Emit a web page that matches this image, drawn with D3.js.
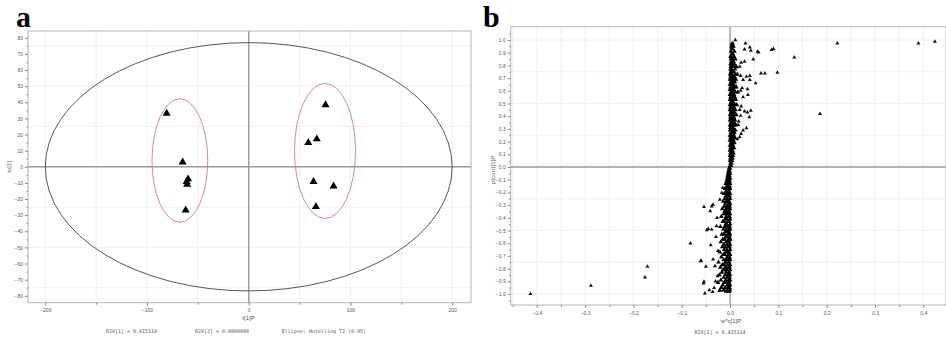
<!DOCTYPE html>
<html>
<head>
<meta charset="utf-8">
<script src="https://cdn.jsdelivr.net/npm/d3@7"></script>
<style>
  body { margin: 0; background: #fff; }
  svg { display: block; }
  text { font-family: "Liberation Sans", Arial, sans-serif; }
</style>
</head>
<body>
<svg id="chart" width="946" height="339"></svg>
<script>
// ---- panel a: score plot ----
const scoresA = [[-80.7, 33.1], [-65, 2.9], [-59.6, -7.6], [-61, -9.3], [-60.5, -11], [-62, -26.9]];
const scoresB = [[75.5, 38.3], [66.9, 17.2], [58.5, 14.9], [63.7, -9.3], [83.4, -12], [66, -24.8]];
// [cx, cy, rx, ry]
const hotelling = [0, 0, 200, 77];
const groupEllipses = [[-67.7, 3.9, 27.4, 38.3], [75, 9.8, 30, 41.9]];
const aXTicks = [-200, -100, 0, 100, 200];
const aXMinor = [-150, -50, 50, 150];
const aYTicks = [-80, -70, -60, -50, -40, -30, -20, -10, 0, 10, 20, 30, 40, 50, 60, 70, 80];
const aYMinor = [-75, -65, -55, -45, -35, -25, -15, -5, 5, 15, 25, 35, 45, 55, 65, 75];
const aXGrid = [-200, -150, -100, -50, 50, 100, 150, 200];
const aYGrid = [-75, -50, -25, 25, 50, 75];
const aFooter = ['R2X[1] = 0.415114', 'R2X[2] = 0.0800008', 'Ellipse: Hotelling T2 (0.95)'];

// ---- panel b: S-plot ----
// dense band, rows of [p(corr), [p values]]
const bandUpper = [
  [0.01, [0.000, 0.002]], [0.03, [0.001, 0.003]], [0.05, [0.000, 0.002, 0.004]],
  [0.07, [0.001, 0.003, 0.005]], [0.09, [0.000, 0.003, 0.006]], [0.11, [0.001, 0.004, 0.007]],
  [0.13, [0.000, 0.002, 0.005]], [0.15, [0.001, 0.004, 0.008]], [0.17, [0.000, 0.003, 0.006]],
  [0.19, [0.002, 0.005, 0.009]], [0.21, [0.000, 0.003, 0.007]], [0.23, [0.001, 0.004, 0.006, 0.010]],
  [0.25, [0.000, 0.003, 0.008]], [0.27, [0.002, 0.005, 0.009]], [0.29, [0.000, 0.004, 0.007, 0.011]],
  [0.31, [0.001, 0.003, 0.006]], [0.33, [0.000, 0.005, 0.008, 0.012]], [0.35, [0.002, 0.004, 0.009]],
  [0.37, [0.000, 0.003, 0.006, 0.010]], [0.39, [0.001, 0.005, 0.008]], [0.41, [0.000, 0.003, 0.007, 0.013]],
  [0.43, [0.002, 0.004, 0.009]], [0.45, [0.000, 0.006, 0.011]], [0.47, [0.001, 0.003, 0.008]],
  [0.49, [0.000, 0.005, 0.010, 0.014]], [0.51, [0.002, 0.004, 0.007]], [0.53, [0.000, 0.003, 0.009, 0.012]],
  [0.55, [0.001, 0.006, 0.010]], [0.57, [0.000, 0.004, 0.008]], [0.59, [0.002, 0.005, 0.011, 0.016]],
  [0.61, [0.000, 0.003, 0.007]], [0.63, [0.001, 0.006, 0.009, 0.013]], [0.65, [0.000, 0.004, 0.008]],
  [0.67, [0.002, 0.005, 0.010]], [0.69, [0.000, 0.003, 0.007, 0.012]], [0.71, [0.001, 0.006, 0.009]],
  [0.73, [0.000, 0.004, 0.011, 0.015]], [0.75, [0.002, 0.005, 0.008]], [0.77, [0.001, 0.003, 0.010]],
  [0.79, [0.002, 0.006, 0.013]], [0.81, [0.001, 0.004, 0.009]], [0.83, [0.003, 0.007]],
  [0.85, [0.002, 0.005, 0.011]], [0.87, [0.001, 0.008]], [0.89, [0.004, 0.006]],
  [0.91, [0.002, 0.009]], [0.93, [0.005]], [0.95, [0.003, 0.007]], [0.97, [0.004]]
];
const bandLower = [
  [-0.01, [0.000, -0.002]], [-0.03, [-0.001, -0.003]], [-0.05, [0.000, -0.002, -0.004]],
  [-0.07, [-0.001, -0.003, -0.005]], [-0.09, [0.000, -0.003, -0.006]], [-0.11, [-0.001, -0.004, -0.007]],
  [-0.13, [0.000, -0.002, -0.005, -0.009]], [-0.15, [-0.001, -0.004, -0.007]], [-0.17, [0.000, -0.003, -0.006, -0.010]],
  [-0.19, [-0.002, -0.005, -0.008]], [-0.21, [0.000, -0.003, -0.007, -0.012]], [-0.23, [-0.001, -0.004, -0.009]],
  [-0.25, [0.000, -0.006, -0.011]], [-0.27, [-0.002, -0.005, -0.008, -0.014]], [-0.29, [0.000, -0.003, -0.010]],
  [-0.31, [-0.001, -0.006, -0.012]], [-0.33, [0.000, -0.004, -0.008, -0.016]], [-0.35, [-0.002, -0.007, -0.011]],
  [-0.37, [0.000, -0.005, -0.009, -0.013]], [-0.39, [-0.001, -0.003, -0.008, -0.018]], [-0.41, [0.000, -0.006, -0.010]],
  [-0.43, [-0.002, -0.004, -0.012, -0.015]], [-0.45, [0.000, -0.007, -0.009]], [-0.47, [-0.001, -0.005, -0.011, -0.020]],
  [-0.49, [0.000, -0.003, -0.008, -0.014]], [-0.51, [-0.002, -0.006, -0.010]], [-0.53, [0.000, -0.004, -0.012, -0.017]],
  [-0.55, [-0.001, -0.007, -0.009]], [-0.57, [0.000, -0.003, -0.011, -0.015]], [-0.59, [-0.002, -0.005, -0.008, -0.019]],
  [-0.61, [0.000, -0.006, -0.013]], [-0.63, [-0.001, -0.004, -0.010, -0.016]], [-0.65, [0.000, -0.007, -0.012]],
  [-0.67, [-0.002, -0.005, -0.009, -0.021]], [-0.69, [0.000, -0.003, -0.011, -0.014]], [-0.71, [-0.001, -0.006, -0.018]],
  [-0.73, [0.000, -0.004, -0.008, -0.013]], [-0.75, [-0.002, -0.007, -0.010, -0.024]], [-0.77, [0.000, -0.005, -0.012, -0.016]],
  [-0.79, [-0.001, -0.003, -0.009, -0.020]], [-0.81, [0.000, -0.006, -0.011, -0.014]], [-0.83, [-0.002, -0.008, -0.017]],
  [-0.85, [0.000, -0.004, -0.010, -0.022]], [-0.87, [-0.001, -0.006, -0.013]], [-0.89, [0.000, -0.003, -0.009, -0.019]],
  [-0.91, [-0.002, -0.007, -0.012, -0.025]], [-0.93, [0.000, -0.005, -0.015]], [-0.95, [-0.001, -0.004, -0.010, -0.018]],
  [-0.97, [0.000, -0.006, -0.013, -0.021]], [-0.98, [-0.002, -0.008]]
];
// scattered variables, [p, p(corr)]
const scatterUpper = [
  [0.011, 1.0], [0.006, 0.974], [0.003, 0.935], [0.032, 0.974], [0.041, 0.943], [0.043, 0.917],
  [0.030, 0.927], [0.057, 0.909], [0.059, 0.903], [0.086, 0.922], [0.090, 0.930], [0.133, 0.864],
  [0.222, 0.974], [0.390, 0.974], [0.424, 0.987], [0.048, 0.848], [0.030, 0.830], [0.023, 0.822],
  [0.020, 0.791], [0.013, 0.785], [0.010, 0.796], [0.064, 0.738], [0.072, 0.738], [0.098, 0.744],
  [0.041, 0.718], [0.034, 0.712], [0.022, 0.718], [0.041, 0.687], [0.027, 0.687], [0.053, 0.660],
  [0.036, 0.613], [0.025, 0.621], [0.022, 0.602], [0.037, 0.569], [0.027, 0.550], [0.023, 0.477],
  [0.020, 0.451], [0.043, 0.445], [0.036, 0.430], [0.030, 0.438], [0.040, 0.393], [0.186, 0.419],
  [0.022, 0.404], [0.034, 0.306], [0.027, 0.288], [0.023, 0.262], [0.020, 0.236], [0.015, 0.220],
  [0.017, 0.333], [0.018, 0.359]
];
const scatterLower = [
  [-0.413, -1.0], [-0.288, -0.935], [-0.171, -0.785], [-0.176, -0.869], [-0.082, -0.602], [-0.060, -0.738],
  [-0.040, -0.615], [-0.050, -0.785], [-0.054, -0.903], [-0.055, -0.916], [-0.052, -0.995], [-0.048, -0.497],
  [-0.038, -0.492], [-0.054, -0.314], [-0.038, -0.309], [-0.035, -0.296], [-0.041, -0.348], [-0.045, -0.487],
  [-0.028, -0.466], [-0.061, -0.741], [-0.035, -0.728], [-0.043, -0.969], [-0.036, -0.984], [-0.033, -0.951],
  [-0.022, -0.976], [-0.026, -0.859], [-0.031, -0.780], [-0.021, -0.256], [-0.017, -0.204], [-0.015, -0.165],
  [-0.029, -0.550], [-0.025, -0.660], [-0.030, -0.900], [-0.027, -0.400]
];
const bXTicks = [-0.4, -0.3, -0.2, -0.1, 0, 0.1, 0.2, 0.3, 0.4];
const bXMinor = [-0.45, -0.35, -0.25, -0.15, -0.05, 0.05, 0.15, 0.25, 0.35, 0.45];
const bYTicks = [-1.0, -0.9, -0.8, -0.7, -0.6, -0.5, -0.4, -0.3, -0.2, -0.1, 0, 0.1, 0.2, 0.3, 0.4, 0.5, 0.6, 0.7, 0.8, 0.9, 1.0];
const bYMinor = [-1.05, -0.95, -0.85, -0.75, -0.65, -0.55, -0.45, -0.35, -0.25, -0.15, -0.05, 0.05, 0.15, 0.25, 0.35, 0.45, 0.55, 0.65, 0.75, 0.85, 0.95, 1.05];
const bXGrid = [-0.45, -0.4, -0.35, -0.3, -0.25, -0.2, -0.15, -0.1, -0.05, 0.05, 0.1, 0.15, 0.2, 0.25, 0.3, 0.35, 0.4, 0.45];
const bYGrid = [-1, -0.75, -0.5, -0.25, 0.25, 0.5, 0.75, 1];
const bFooter = 'R2X[1] = 0.415114';

const svg = d3.select('#chart');

const xa = d3.scaleLinear().domain([-217, 218.5]).range([28, 471]);
const ya = d3.scaleLinear().domain([-84.3, 84.2]).range([302.7, 31]);
const xb = d3.scaleLinear().domain([-0.454, 0.447]).range([510.7, 946]);
const yb = d3.scaleLinear().domain([-1.087, 1.105]).range([305, 26.7]);

function drawFrame(x, y, xGrid, yGrid, xt, xm, yt, ym, fmt) {
  const g = svg.append('g');
  const [x0, x1] = x.range(), [y0, y1] = y.range();
  g.selectAll('.gx').data(xGrid).enter().append('line')
    .attr('x1', d => x(d)).attr('x2', d => x(d)).attr('y1', y0).attr('y2', y1)
    .attr('stroke', '#ececec').attr('stroke-width', 0.8);
  g.selectAll('.gy').data(yGrid).enter().append('line')
    .attr('y1', d => y(d)).attr('y2', d => y(d)).attr('x1', x0).attr('x2', x1)
    .attr('stroke', '#ececec').attr('stroke-width', 0.8);
  // zero lines
  g.append('line').attr('x1', x(0)).attr('x2', x(0)).attr('y1', y0).attr('y2', y1)
    .attr('stroke', '#9a9a9a').attr('stroke-width', 1.4);
  g.append('line').attr('x1', x0).attr('x2', x1).attr('y1', y(0)).attr('y2', y(0))
    .attr('stroke', '#9a9a9a').attr('stroke-width', 1.4);
  g.append('rect').attr('x', x0).attr('y', y1).attr('width', x1 - x0).attr('height', y0 - y1)
    .attr('fill', 'none').attr('stroke', '#b4b4b4').attr('stroke-width', 1);

  const style = sel => {
    sel.select('.domain').remove();
    sel.selectAll('line').attr('stroke', '#888');
    sel.selectAll('text').attr('fill', '#555').style('font-size', '5px');
  };
  svg.append('g').attr('transform', `translate(0,${y0})`)
    .call(d3.axisBottom(x).tickValues(xt).tickSize(3).tickPadding(3).tickFormat(fmt)).call(style);
  svg.append('g').attr('transform', `translate(0,${y0})`)
    .call(d3.axisBottom(x).tickValues(xm).tickSize(2).tickFormat('')).call(style);
  svg.append('g').attr('transform', `translate(${x0},0)`)
    .call(d3.axisLeft(y).tickValues(yt).tickSize(3).tickPadding(2).tickFormat(fmt)).call(style);
  svg.append('g').attr('transform', `translate(${x0},0)`)
    .call(d3.axisLeft(y).tickValues(ym).tickSize(1.5).tickFormat('')).call(style);
}

// panel a
drawFrame(xa, ya, aXGrid, aYGrid, aXTicks, aXMinor, aYTicks, aYMinor, d3.format('d'));

const ell = (e, color) => svg.append('ellipse')
  .attr('cx', xa(e[0])).attr('cy', ya(e[1]))
  .attr('rx', xa(e[2]) - xa(0)).attr('ry', ya(0) - ya(e[3]))
  .attr('fill', 'none').attr('stroke', color).attr('stroke-width', 0.9);
ell(hotelling, '#444');
groupEllipses.forEach(e => ell(e, '#d77a85'));

const tri = d3.symbol(d3.symbolTriangle, 28);
svg.selectAll('.sa').data(scoresA.concat(scoresB)).enter().append('path')
  .attr('d', tri).attr('fill', '#000')
  .attr('transform', d => `translate(${xa(d[0])},${ya(d[1])})`);

svg.append('text').attr('x', 248.5).attr('y', 320).attr('text-anchor', 'middle')
  .attr('fill', '#555').style('font-size', '6px').text('t[1]P');
svg.append('text').attr('transform', 'translate(11,167) rotate(-90)').attr('text-anchor', 'middle')
  .attr('fill', '#555').style('font-size', '6px').text('to[1]');
const footX = [131.5, 222, 324];
aFooter.forEach((t, i) => svg.append('text').attr('x', footX[i]).attr('y', 333)
  .attr('text-anchor', 'middle').attr('fill', '#555')
  .style('font-family', '"DejaVu Sans Mono", monospace').style('font-size', '5px').text(t));

// panel b
drawFrame(xb, yb, bXGrid, bYGrid, bXTicks, bXMinor, bYTicks, bYMinor, d3.format('.1f'));

const bandPts = [];
bandUpper.concat(bandLower).forEach(r => r[1].forEach(p => bandPts.push([p, r[0]])));
svg.append('clipPath').attr('id', 'clipb').append('rect')
  .attr('x', 510.7).attr('y', 26.7).attr('width', 436).attr('height', 278.3);
const pb = svg.append('g').attr('clip-path', 'url(#clipb)');
pb.selectAll('.band').data(bandPts).enter().append('path')
  .attr('d', d3.symbol(d3.symbolTriangle, 10)).attr('fill', '#000')
  .attr('transform', d => `translate(${xb(d[0])},${yb(d[1])})`);
pb.selectAll('.sc').data(scatterUpper.concat(scatterLower)).enter().append('path')
  .attr('d', d3.symbol(d3.symbolTriangle, 7)).attr('fill', '#111')
  .attr('transform', d => `translate(${xb(d[0])},${yb(d[1])})`);

svg.append('text').attr('x', 731).attr('y', 323).attr('text-anchor', 'middle')
  .attr('fill', '#555').style('font-size', '6px').text('w*c[1]P');
svg.append('text').attr('transform', 'translate(495,170) rotate(-90)').attr('text-anchor', 'middle')
  .attr('fill', '#555').style('font-size', '6px').text('p(corr)[1]P');
svg.append('text').attr('x', 720).attr('y', 334).attr('text-anchor', 'middle')
  .attr('fill', '#555').style('font-family', '"DejaVu Sans Mono", monospace')
  .style('font-size', '5px').text(bFooter);

// panel letters
svg.append('text').attr('x', 16).attr('y', 27).style('font-family', '"Liberation Serif", "Times New Roman", serif')
  .style('font-weight', 'bold').style('font-size', '30px').text('a');
svg.append('text').attr('x', 483).attr('y', 27).style('font-family', '"Liberation Serif", "Times New Roman", serif')
  .style('font-weight', 'bold').style('font-size', '30px').text('b');
</script>
</body>
</html>
